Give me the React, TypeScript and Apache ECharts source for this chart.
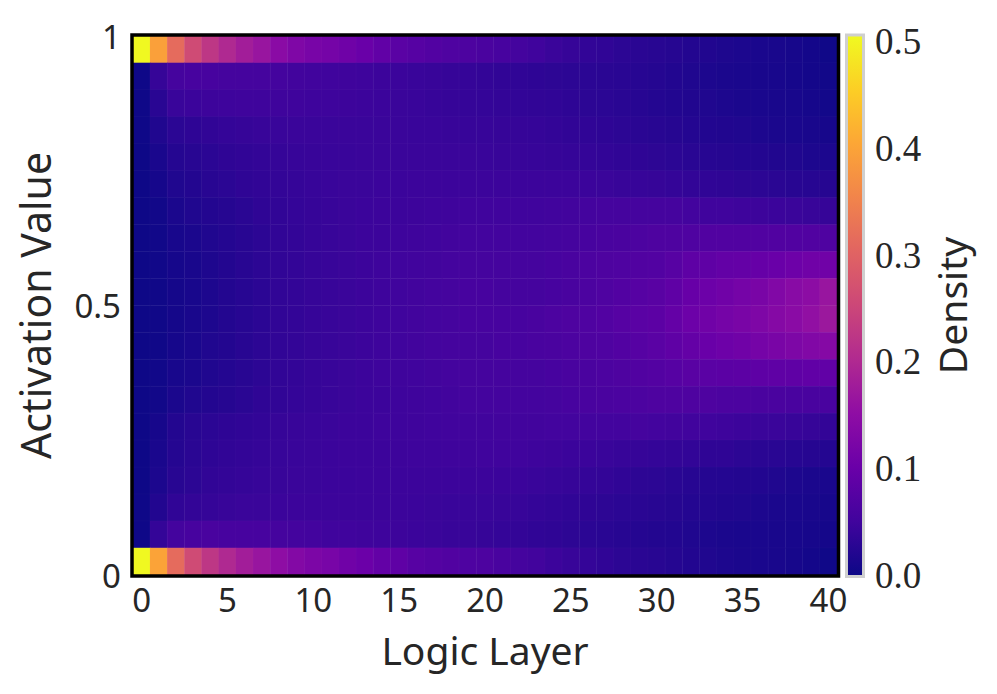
import React, { useEffect, useRef } from "react";
import * as echarts from "echarts";

const layers = ["0","1","2","3","4","5","6","7","8","9","10","11","12","13","14","15","16","17","18","19","20","21","22","23","24","25","26","27","28","29","30","31","32","33","34","35","36","37","38","39","40"];
const plasma = ["#0d0887","#41049d","#6a00a8","#8f0da4","#b12a90","#cc4778","#e16462","#f1844b","#fca636","#fcce25","#f0f921"];
const colorbarTicks = [0, 0.1, 0.2, 0.3, 0.4, 0.5];
const densityMax = 0.5056;

const row00 = [.505,.395,.315,.26,.225,.2,.18,.165,.145,.13,.12,.116,.108,.1,.09,.082,.076,.072,.068,.065,.062,.058,.054,.05,.044,.04,.036,.034,.03,.028,.026,.024,.021,.019,.017,.015,.013,.012,.01,.007,.003];
const row01 = [.002,.04,.056,.058,.058,.056,.056,.056,.054,.052,.051,.05,.049,.048,.046,.045,.043,.042,.04,.039,.037,.035,.034,.032,.031,.03,.029,.028,.027,.025,.023,.02,.018,.016,.014,.013,.012,.011,.009,.007,.005];
const row02 = [.002,.027,.043,.045,.047,.048,.049,.049,.049,.049,.048,.048,.047,.046,.045,.044,.043,.041,.04,.039,.038,.037,.036,.035,.034,.032,.03,.029,.027,.025,.022,.02,.019,.018,.016,.014,.013,.012,.011,.009,.006];
const row03 = [.002,.018,.029,.032,.035,.038,.04,.042,.043,.044,.044,.044,.044,.044,.044,.044,.043,.043,.042,.041,.041,.04,.04,.039,.037,.035,.034,.032,.03,.028,.026,.024,.022,.02,.019,.018,.016,.014,.013,.012,.01];
const row04 = [.001,.013,.023,.026,.029,.033,.035,.037,.039,.041,.042,.043,.043,.044,.044,.044,.044,.044,.044,.044,.043,.042,.042,.041,.04,.039,.038,.036,.034,.033,.031,.029,.027,.025,.024,.022,.021,.019,.018,.016,.015];
const row05 = [.001,.009,.018,.021,.026,.029,.033,.035,.037,.039,.041,.043,.044,.044,.045,.045,.046,.046,.046,.046,.046,.046,.046,.046,.046,.046,.045,.044,.042,.041,.04,.038,.036,.034,.033,.031,.03,.028,.026,.025,.024];
const row06 = [.001,.005,.014,.018,.021,.024,.028,.033,.035,.038,.04,.042,.044,.045,.046,.046,.047,.048,.049,.05,.05,.05,.05,.05,.051,.052,.054,.056,.056,.056,.056,.056,.053,.05,.05,.048,.047,.045,.044,.042,.04];
const row07 = [.001,.004,.011,.014,.018,.022,.026,.03,.035,.037,.04,.042,.044,.046,.046,.048,.049,.05,.052,.053,.053,.053,.053,.053,.054,.056,.058,.061,.062,.064,.066,.066,.068,.07,.07,.07,.07,.07,.07,.07,.068];
const row08 = [.001,.004,.009,.012,.017,.021,.026,.03,.035,.037,.04,.042,.044,.046,.048,.05,.051,.052,.054,.056,.056,.056,.056,.056,.058,.061,.064,.066,.068,.07,.072,.078,.086,.088,.092,.094,.096,.1,.105,.11,.11];
const row09 = [.001,.003,.008,.011,.016,.021,.025,.029,.035,.037,.04,.042,.044,.046,.048,.05,.052,.054,.056,.058,.058,.056,.056,.056,.058,.061,.064,.068,.072,.077,.08,.088,.098,.104,.11,.116,.122,.132,.142,.148,.165];
const row10 = [.001,.003,.008,.012,.016,.021,.025,.029,.035,.037,.04,.042,.044,.046,.048,.05,.052,.054,.056,.058,.058,.058,.058,.061,.064,.066,.068,.072,.077,.082,.084,.094,.104,.11,.116,.122,.128,.138,.145,.155,.17];
const row11 = [.001,.003,.009,.013,.018,.021,.026,.03,.035,.037,.04,.042,.044,.046,.048,.05,.052,.054,.056,.056,.056,.058,.058,.06,.062,.064,.066,.068,.072,.077,.082,.088,.094,.1,.105,.11,.116,.122,.127,.132,.138];
const row12 = [.001,.004,.011,.014,.018,.022,.026,.03,.035,.037,.04,.042,.044,.046,.048,.049,.05,.052,.054,.056,.056,.056,.056,.056,.058,.06,.062,.064,.066,.07,.073,.077,.08,.082,.083,.084,.086,.088,.088,.09,.09];
const row13 = [.001,.005,.014,.018,.021,.024,.028,.033,.035,.038,.04,.042,.044,.046,.046,.048,.049,.05,.052,.054,.054,.054,.054,.054,.056,.058,.061,.062,.063,.064,.066,.066,.066,.066,.064,.064,.062,.062,.06,.06,.06];
const row14 = [.001,.01,.021,.026,.029,.032,.034,.036,.04,.042,.043,.044,.046,.046,.048,.048,.049,.05,.051,.051,.051,.052,.052,.052,.053,.053,.053,.053,.053,.055,.053,.052,.051,.05,.048,.046,.044,.044,.042,.04,.037];
const row15 = [.001,.013,.023,.028,.032,.035,.037,.039,.041,.043,.044,.045,.046,.046,.046,.047,.048,.048,.049,.049,.05,.05,.05,.048,.047,.045,.045,.043,.041,.04,.038,.037,.036,.033,.033,.03,.028,.027,.025,.024,.022];
const row16 = [.001,.015,.026,.03,.035,.037,.039,.041,.042,.044,.044,.045,.045,.046,.046,.046,.046,.046,.046,.046,.046,.045,.045,.043,.041,.04,.038,.037,.034,.031,.03,.027,.025,.023,.022,.021,.02,.018,.016,.014,.013];
const row17 = [.002,.02,.034,.037,.039,.042,.044,.044,.045,.046,.046,.046,.046,.046,.046,.046,.045,.044,.043,.043,.043,.042,.041,.038,.036,.034,.033,.031,.029,.028,.026,.024,.022,.021,.019,.018,.016,.014,.013,.012,.01];
const row18 = [.002,.038,.054,.058,.06,.058,.058,.058,.056,.054,.053,.05,.05,.049,.048,.047,.045,.044,.042,.042,.04,.038,.037,.034,.033,.031,.029,.027,.025,.023,.021,.02,.018,.016,.014,.013,.013,.012,.011,.01,.008];
const row19 = [.505,.4,.315,.26,.225,.2,.18,.165,.15,.135,.126,.12,.11,.102,.092,.087,.078,.074,.07,.067,.065,.06,.056,.052,.046,.042,.038,.034,.03,.028,.026,.023,.02,.018,.016,.014,.013,.012,.01,.007,.003];

const rowsTopDown = [row00,row01,row02,row03,row04,row05,row06,row07,row08,row09,row10,row11,row12,row13,row14,row15,row16,row17,row18,row19];
const rowNames = rowsTopDown.map((_, i) => String(i));

const sans = "'Noto Sans', sans-serif";
const serif = "'Liberation Serif', serif";
const ink = "#262626";

export default function App() {
  const ref = useRef<HTMLDivElement>(null);
  useEffect(() => {
    const chart = echarts.init(ref.current!, null, { renderer: "svg" });
    const data: number[][] = [];
    rowsTopDown.forEach((row, r) => {
      row.forEach((v, c) => data.push([c, rowsTopDown.length - 1 - r, v]));
    });
    const stops = plasma.map((color, i) => ({ offset: i / (plasma.length - 1), color }));
    chart.setOption({
      animation: false,
      backgroundColor: "#fff",
      grid: [
        { left: 133, top: 36, width: 704, height: 539, outerBoundsMode: "none" },
        { left: 848, top: 36, width: 14, height: 539, outerBoundsMode: "none" },
      ],
      xAxis: [
        {
          type: "category", gridIndex: 0, data: layers, position: "bottom",
          axisLine: { show: false }, axisTick: { show: false }, splitLine: { show: false },
          axisLabel: { interval: 4, fontFamily: sans, fontSize: 33, color: ink, margin: 8 },
          name: "Logic Layer", nameLocation: "middle", nameGap: 55,
          nameTextStyle: { fontFamily: sans, fontSize: 39, color: ink },
        },
        { type: "value", gridIndex: 1, min: 0, max: 1, show: false },
      ],
      yAxis: [
        { type: "category", gridIndex: 0, data: rowNames, show: false },
        {
          type: "value", gridIndex: 0, min: 0, max: 1, interval: 0.5, position: "left",
          axisLine: { show: false }, axisTick: { show: false }, splitLine: { show: false },
          axisLabel: { fontFamily: sans, fontSize: 33, color: ink, margin: 12, formatter: (v: number) => String(v) },
          name: "Activation Value", nameLocation: "middle", nameGap: 78, nameRotate: 90,
          nameTextStyle: { fontFamily: sans, fontSize: 41, color: ink },
        },
        {
          type: "value", gridIndex: 1, min: 0, max: densityMax, position: "right",
          axisLine: { show: false }, axisTick: { show: false }, splitLine: { show: false },
          axisLabel: { fontFamily: serif, fontSize: 37, color: ink, margin: 13, padding: [6, 0, 0, 0],
            customValues: colorbarTicks, formatter: (v: number) => v.toFixed(1) },
          name: "Density", nameLocation: "middle", nameGap: 70, nameRotate: 90,
          nameTextStyle: { fontFamily: sans, fontSize: 39, color: ink },
        },
      ],
      visualMap: {
        type: "continuous", show: false, seriesIndex: 0, min: 0, max: densityMax,
        inRange: { color: plasma },
      },
      series: [
        {
          type: "heatmap", xAxisIndex: 0, yAxisIndex: 0, data,
          itemStyle: { borderWidth: 0.5, borderColor: "rgba(255,255,255,0.06)" },
          emphasis: { disabled: true }, progressive: 0,
        },
      ],
      graphic: [
        { type: "rect", z: 90, shape: { x: 848, y: 36, width: 14, height: 539 },
          style: { fill: new echarts.graphic.LinearGradient(0, 1, 0, 0, stops) } },
        { type: "rect", z: 100, shape: { x: 132, y: 35, width: 706.5, height: 541 }, style: { fill: "none", stroke: "#000", lineWidth: 3.5 } },
        { type: "rect", z: 100, shape: { x: 846.5, y: 35, width: 17, height: 541.5 }, style: { fill: "none", stroke: "#cfcfcf", lineWidth: 3 } },
      ],
    });
    return () => chart.dispose();
  }, []);
  return <div ref={ref} style={{ width: 997, height: 694, position: "absolute", left: 0, top: 0 }} />;
}
